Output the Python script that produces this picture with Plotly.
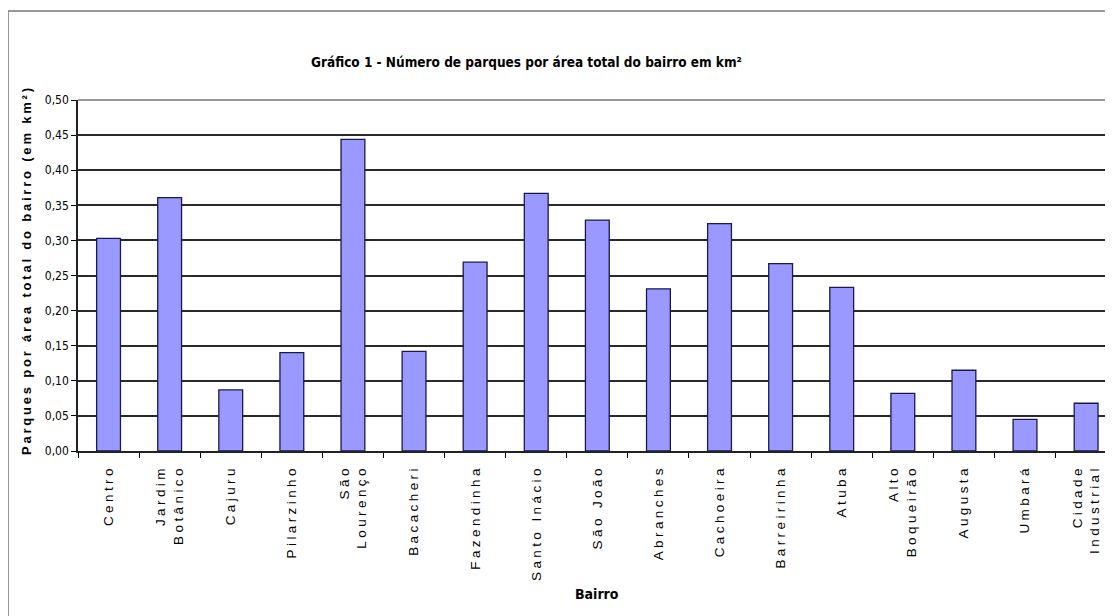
import plotly.graph_objects as go

categories = ["Centro", "Jardim Botânico", "Cajuru", "Pilarzinho", "São Lourenço",
              "Bacacheri", "Fazendinha", "Santo Inácio", "São João", "Abranches",
              "Cachoeira", "Barreirinha", "Atuba", "Alto Boqueirão", "Augusta",
              "Umbará", "Cidade Industrial"]
tick_lines = [["Centro"], ["Jardim", "Botânico"], ["Cajuru"], ["Pilarzinho"], ["São", "Lourenço"],
              ["Bacacheri"], ["Fazendinha"], ["Santo Inácio"], ["São João"], ["Abranches"],
              ["Cachoeira"], ["Barreirinha"], ["Atuba"], ["Alto", "Boqueirão"], ["Augusta"],
              ["Umbará"], ["Cidade", "Industrial"]]
values = [0.303, 0.361, 0.087, 0.140, 0.444, 0.142, 0.269, 0.367, 0.329, 0.231,
          0.324, 0.267, 0.233, 0.082, 0.115, 0.045, 0.068]
y_ticks = [0.0, 0.05, 0.10, 0.15, 0.20, 0.25, 0.30, 0.35, 0.40, 0.45, 0.50]

title_text = "Gráfico 1 - Número de parques por área total do bairro em km²"
ytitle_text = "Parques por área total do bairro (em km²)"
xtitle_text = "Bairro"

NARROW = "Liberation Sans Narrow, Arial Narrow, DejaVu Sans Condensed, sans-serif"
ARIAL = "Liberation Sans, Arial, sans-serif"

def spaced(s, px):
    return f'<span style="letter-spacing:{px}px">{s}</span>'

tick_text = ["<br>".join(spaced(l, 3.4) for l in lines) for lines in tick_lines]

# the page has an 8px body margin; work in page coordinates and shift
OFF = 8
PAGE_W, PAGE_H = 1113, 616
W, H = PAGE_W - OFF, PAGE_H - OFF
PLOT_L, PLOT_T, PLOT_B, PLOT_R = 78, 100, 451, 1113
L = PLOT_L - OFF
T = PLOT_T - OFF
B = H - (PLOT_B - OFF)
R = W - (PLOT_R - OFF)
pw, ph = W - L - R, H - T - B

def px_x(x):
    return (x - OFF - L) / pw

def px_y(y):
    return (H - B - (y - OFF)) / ph

fig = go.Figure()
fig.add_trace(go.Bar(
    x=categories, y=values,
    marker=dict(color="#9999FF", line=dict(color="#1a1a4d", width=1.3)),
))

fig.update_layout(
    width=W, height=H,
    margin=dict(l=L, r=R, t=T, b=B, pad=0),
    paper_bgcolor="white", plot_bgcolor="white",
    separators=",.",
    bargap=0.61,
    showlegend=False,
    xaxis=dict(
        type="category", range=[-0.5, 16.44],
        tickmode="array", tickvals=categories, ticktext=tick_text,
        tickangle=-90, tickson="boundaries",
        ticks="outside", ticklen=5, tickwidth=1.2, tickcolor="#000",
        ticklabelstandoff=7,
        showline=True, linecolor="#222", linewidth=1.5,
        showgrid=False,
        tickfont=dict(family=ARIAL, size=13.5, color="#000"),
    ),
    yaxis=dict(
        range=[0, 0.5], tickvals=y_ticks, tickformat=".2f",
        ticks="outside", ticklen=5, tickwidth=1.2, tickcolor="#000",
        showline=True, linecolor="#222", linewidth=1.5,
        showgrid=True, gridcolor="#2a2a2a", gridwidth=1.5,
        zeroline=False,
        tickfont=dict(family=NARROW, size=12, color="#000"),
    ),
    shapes=[
        dict(type="rect", xref="paper", yref="paper",
             x0=px_x(8), x1=px_x(1130), y0=px_y(640), y1=px_y(11),
             line=dict(color="#777", width=1.5), layer="below"),
        dict(type="line", xref="paper", yref="paper",
             x0=0, x1=1, y0=1, y1=1,
             line=dict(color="#999", width=2), layer="above"),
    ],
    annotations=[
        dict(text="<b>" + title_text + "</b>", xref="paper", yref="paper",
             x=px_x(526), y=px_y(62), xanchor="center", yanchor="middle", showarrow=False,
             font=dict(family=NARROW, size=13.5, color="#000")),
        dict(text="<b>" + xtitle_text + "</b>", xref="paper", yref="paper",
             x=px_x(597), y=px_y(594), xanchor="center", yanchor="middle", showarrow=False,
             font=dict(family=NARROW, size=14, color="#000")),
        dict(text="<b>" + spaced(ytitle_text, 2.8) + "</b>", xref="paper", yref="paper",
             x=px_x(26), y=px_y(270), xanchor="center", yanchor="middle", showarrow=False,
             textangle=-90,
             font=dict(family=ARIAL, size=13, color="#000")),
    ],
)

fig.write_html("out.html")
